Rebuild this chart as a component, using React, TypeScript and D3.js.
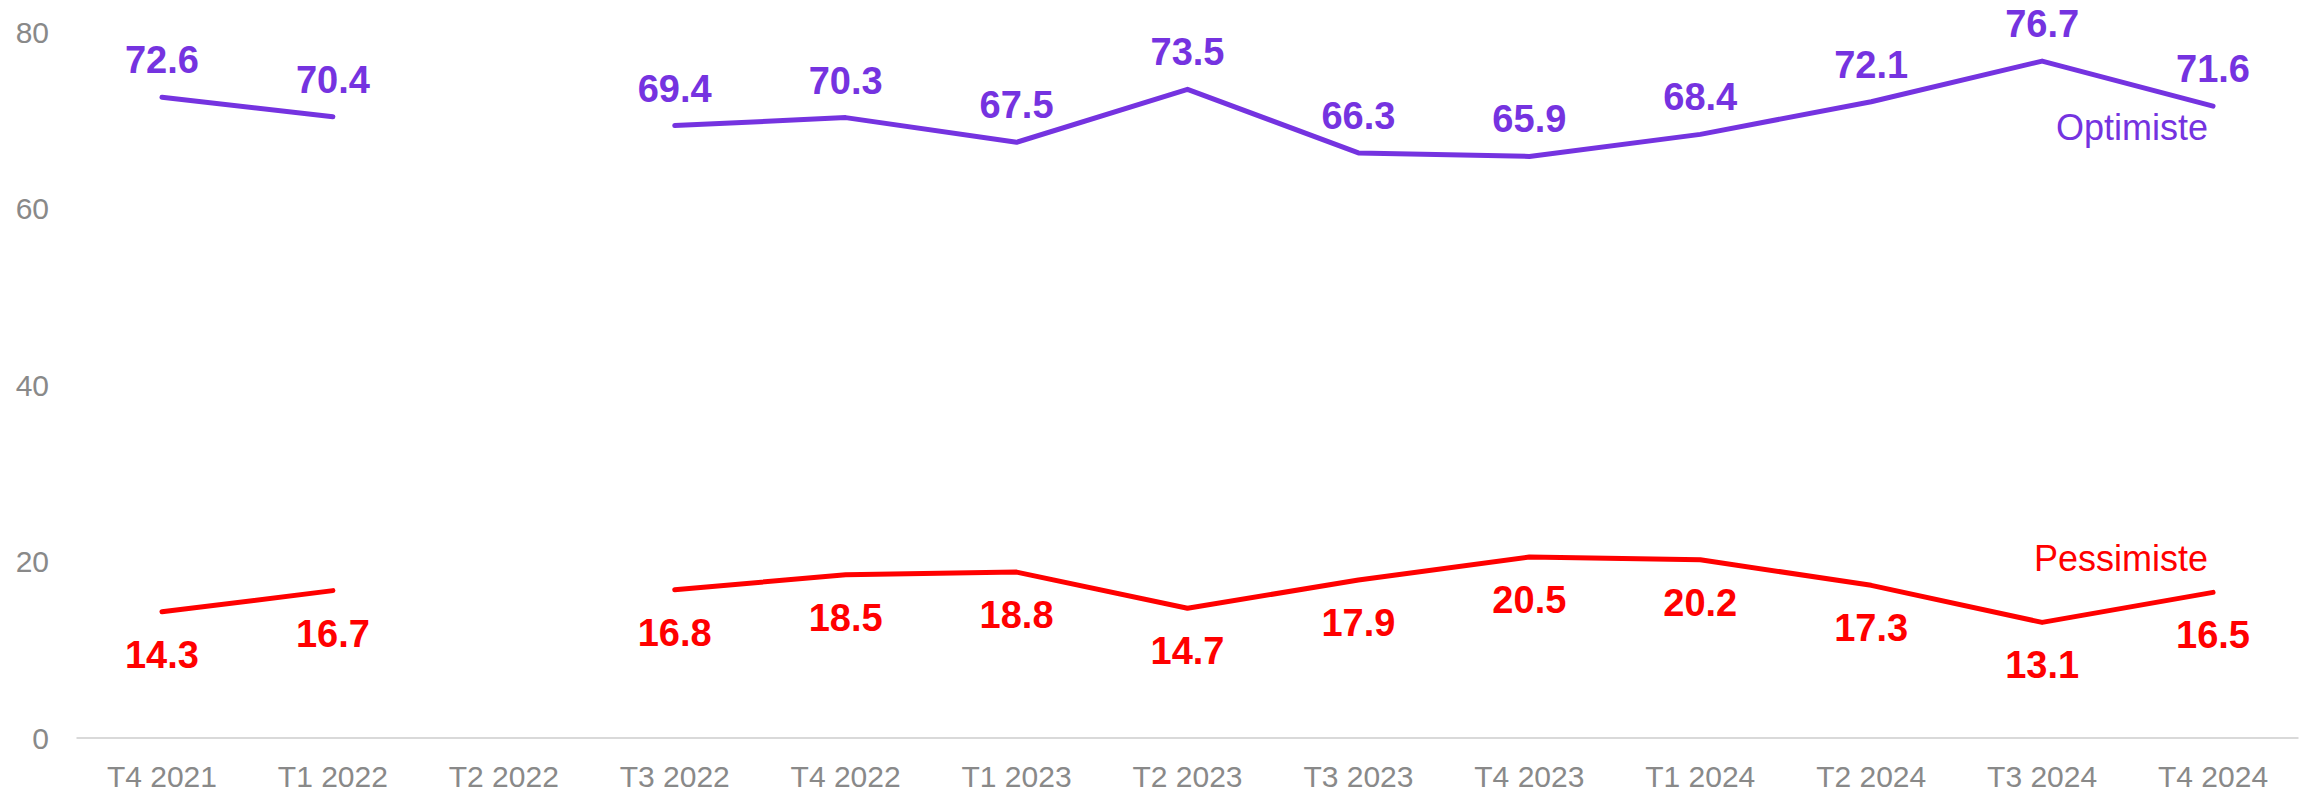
import React from "react";
import * as d3 from "d3";

const categories = [
  "T4 2021", "T1 2022", "T2 2022", "T3 2022", "T4 2022", "T1 2023", "T2 2023",
  "T3 2023", "T4 2023", "T1 2024", "T2 2024", "T3 2024", "T4 2024",
];
const optimiste: (number | null)[] = [72.6, 70.4, null, 69.4, 70.3, 67.5, 73.5, 66.3, 65.9, 68.4, 72.1, 76.7, 71.6];
const pessimiste: (number | null)[] = [14.3, 16.7, null, 16.8, 18.5, 18.8, 14.7, 17.9, 20.5, 20.2, 17.3, 13.1, 16.5];
const yTicks = [0, 20, 40, 60, 80];

const W = 2305;
const H = 793;
const PURPLE = "#7533E0";
const RED = "#FF0000";
const GRAY = "#898989";
const FONT = "'Liberation Sans', Arial, sans-serif";

export default function App() {
  const x = d3.scalePoint<string>().domain(categories).range([76.5, 2298.5]).padding(0.5);
  const y = d3.scaleLinear().domain([0, 80]).range([738, 32]);

  const mk = (vals: (number | null)[]) =>
    d3
      .line<number | null>()
      .defined((d) => d !== null)
      .x((_, i) => x(categories[i]) as number)
      .y((d) => y(d as number))(vals) || "";

  const lastIdx = categories.length - 1;
  const lastX = x(categories[lastIdx]) as number;

  return (
    <svg
      width={W}
      height={H}
      style={{ position: "absolute", left: 0, top: 0, display: "block", background: "#fff" }}
      fontFamily={FONT}
    >
      {/* baseline axis */}
      <line x1={76.5} x2={2298.5} y1={y(0)} y2={y(0)} stroke="#D9D9D9" strokeWidth={2} />
      {/* y ticks */}
      {yTicks.map((t) => (
        <text key={t} x={49} y={y(t)} dy="0.35em" textAnchor="end" fontSize={30} fill={GRAY}>
          {t}
        </text>
      ))}
      {/* x ticks */}
      {categories.map((c) => (
        <text key={c} x={x(c)} y={787} textAnchor="middle" fontSize={30} fill={GRAY}>
          {c}
        </text>
      ))}
      {/* lines */}
      <path d={mk(optimiste)} fill="none" stroke={PURPLE} strokeWidth={5} strokeLinecap="round" strokeLinejoin="round" />
      <path d={mk(pessimiste)} fill="none" stroke={RED} strokeWidth={5} strokeLinecap="round" strokeLinejoin="round" />
      {/* data labels */}
      {optimiste.map((v, i) =>
        v === null ? null : (
          <text key={"o" + i} x={x(categories[i])} y={y(v) - 24} textAnchor="middle" fontSize={38} fontWeight="bold" fill={PURPLE}>
            {v.toFixed(1)}
          </text>
        )
      )}
      {pessimiste.map((v, i) =>
        v === null ? null : (
          <text key={"p" + i} x={x(categories[i])} y={y(v) + 56} textAnchor="middle" fontSize={38} fontWeight="bold" fill={RED}>
            {v.toFixed(1)}
          </text>
        )
      )}
      {/* series labels */}
      <text x={lastX - 5} y={y(optimiste[lastIdx] as number) + 34} textAnchor="end" fontSize={36} fill={PURPLE}>
        Optimiste
      </text>
      <text x={lastX - 5} y={y(pessimiste[lastIdx] as number) - 21} textAnchor="end" fontSize={36} fill={RED}>
        Pessimiste
      </text>
    </svg>
  );
}
